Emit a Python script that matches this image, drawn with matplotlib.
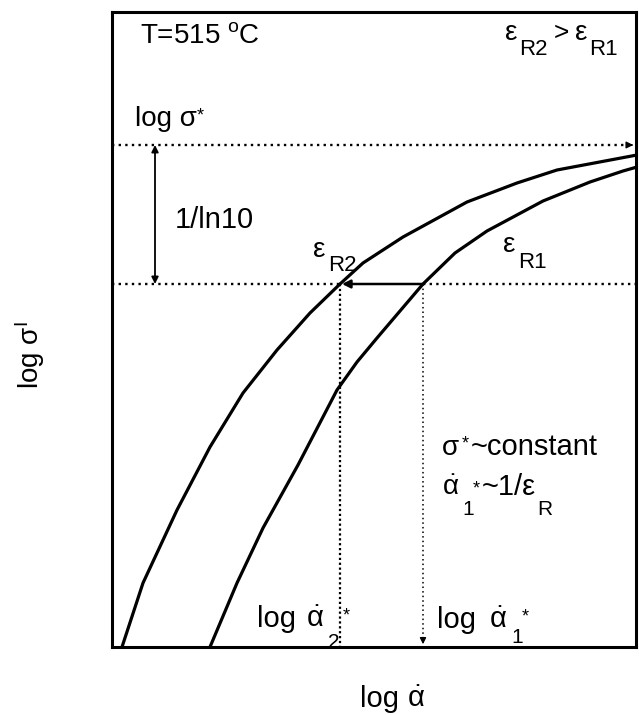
import numpy as np
import matplotlib
matplotlib.use("Agg")
import matplotlib.pyplot as plt

plt.rcParams['font.family'] = ['Liberation Sans', 'DejaVu Sans']
plt.rcParams['mathtext.fontset'] = 'custom'
plt.rcParams['mathtext.rm'] = 'Liberation Sans'
plt.rcParams['mathtext.it'] = 'Liberation Sans'
plt.rcParams['mathtext.bf'] = 'Liberation Sans:bold'

# schematic curves (arbitrary units)
x_r2 = [10, 31, 65, 98, 131, 165, 198, 228, 251, 291, 355, 405, 445, 525]
y_r2 = [0, 64, 137, 200, 254, 297, 334, 363, 384, 410, 445, 464, 477, 492]
x_r1 = [98, 125, 151, 186, 225, 245, 265, 311, 343, 375, 431, 478, 511, 525]
y_r1 = [0, 64, 119, 182, 257, 285, 309, 363, 394, 416, 446, 465, 476, 480]

sigma_star = 502      # log sigma* level
sigma_level = 363     # working stress level
x_alpha2 = 228        # log alpha2* position
x_alpha1 = 311        # log alpha1* position
x_span = 524
y_span = 635

fig = plt.figure(figsize=(6.39, 7.15), dpi=100)
ax = fig.add_axes([112 / 639, 68 / 715, 524 / 639, 635 / 715])
ax.set_xlim(0, x_span)
ax.set_ylim(0, y_span)
ax.set_xticks([])
ax.set_yticks([])
for s in ax.spines.values():
    s.set_linewidth(2.2)

# curves
ax.plot(x_r2, y_r2, color='black', lw=2.3, solid_joinstyle='round')
ax.plot(x_r1, y_r1, color='black', lw=2.3, solid_joinstyle='round')

# dotted reference lines
dots = (0, (1, 1.8))
ax.plot([0, x_span - 4], [sigma_star, sigma_star], color='black', lw=1.7, ls=dots)
ax.annotate('', xy=(x_span, sigma_star), xytext=(x_span - 8, sigma_star),
            arrowprops=dict(arrowstyle='-|>', color='black', lw=1, mutation_scale=10))
ax.plot([0, x_alpha2], [sigma_level, sigma_level], color='black', lw=1.7, ls=dots)
ax.plot([x_alpha1, x_span], [sigma_level, sigma_level], color='black', lw=1.7, ls=dots)

# vertical dotted drops
ax.plot([x_alpha2, x_alpha2], [sigma_level, 0], color='black', lw=1.6, ls=(0, (1, 1.2)))
ax.plot([x_alpha1, x_alpha1], [sigma_level, 6], color='black', lw=1.1, ls=(0, (1, 2)))
ax.annotate('', xy=(x_alpha1, 0), xytext=(x_alpha1, 10),
            arrowprops=dict(arrowstyle='-|>', color='black', lw=1, mutation_scale=9))

# horizontal shift arrow
ax.annotate('', xy=(x_alpha2 + 2, sigma_level), xytext=(x_alpha1, sigma_level),
            arrowprops=dict(arrowstyle='-|>', color='black', lw=1.8, mutation_scale=12,
                            shrinkA=0, shrinkB=0))

# 1/ln10 double arrow
ax.annotate('', xy=(43, sigma_star), xytext=(43, sigma_level),
            arrowprops=dict(arrowstyle='<|-|>', color='black', lw=1.3, mutation_scale=10,
                            shrinkA=0, shrinkB=0))


def put(x, y, s, size):
    ax.text(x, y, s, fontsize=size, va='baseline', ha='left', clip_on=False)


dot_alpha = r'$\dot{\alpha}$'

put(28, 604, r'T=515 $^{\mathrm{o}}$C', 20)

# eR2 > eR1
put(393, 607, 'ε', 20)
put(407, 592, 'R2', 16)
put(442, 607, '>', 19)
put(463, 607, 'ε', 20)
put(477, 592, 'R1', 16)

# log sigma*
put(23, 521, 'log σ', 20)
put(85, 527, '*', 13)

put(63, 419, '1/ln10', 21)

# curve labels
put(201, 390, 'ε', 20)
put(216, 376, 'R2', 16)
put(391, 395, 'ε', 20)
put(406, 379, 'R1', 16)

# sigma*~constant
put(330, 192, 'σ', 20)
put(350, 199, '*', 13)
put(359, 192, '~constant', 21)

# alpha1*~1/eR
put(330, 152, dot_alpha, 20)
put(350, 132, '1', 15)
put(361, 154, '*', 13)
put(370, 152, '~1/ε', 21)
put(425, 132, 'R', 15)

# log alpha2*
put(145, 20, 'log', 21)
put(194, 20, dot_alpha, 21)
put(216, -1, '2', 15)
put(231, 27, '*', 13)

# log alpha1*
put(325, 19, 'log', 21)
put(377, 19, dot_alpha, 21)
put(399, 4, '1', 15)
put(410, 26, '*', 13)

# axis labels
put(248, -60, 'log', 21)
put(295, -60, dot_alpha, 21)
ax.text(-82, 292, r'log σ$^{\mathrm{I}}$', fontsize=20, rotation=90,
        ha='center', va='center', clip_on=False)

fig.savefig('out.png', dpi=100)
